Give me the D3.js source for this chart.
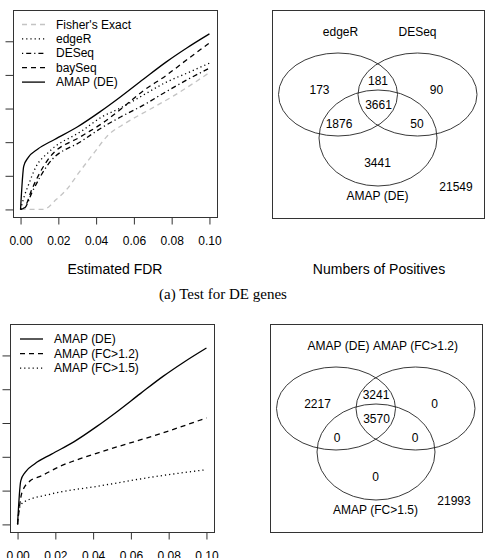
<!DOCTYPE html>
<html>
<head>
<meta charset="utf-8">
<script src="https://cdn.jsdelivr.net/npm/d3@7"></script>
<style>
  body { margin: 0; background: #fff; }
  svg { display: block; font-family: "Liberation Sans", Arial, sans-serif; }
</style>
</head>
<body>
<svg id="fig" width="487" height="558"></svg>
<script>
// --- data -------------------------------------------------------------
const xTicks = [0, 0.02, 0.04, 0.06, 0.08, 0.10];
const yTicks = [0, 2000, 4000, 6000, 8000, 10000];

// top panel: positives vs estimated FDR
const fisherFdr = [0, 0.012, 0.019, 0.0245, 0.031, 0.039, 0.0457, 0.056, 0.0686, 0.0808, 0.1];
const fisherPos = [0, 0, 600, 1200, 2200, 3380, 4340, 5160, 5960, 6740, 8140];
const edgeRFdr = [0, 0.002, 0.004, 0.008, 0.0146, 0.0323, 0.043, 0.053, 0.065, 0.077, 0.088, 0.1];
const edgeRPos = [0, 800, 1400, 2500, 3380, 4660, 5500, 6040, 6800, 7560, 8100, 8700];
const deseqFdr = [0, 0.0023, 0.006, 0.0146, 0.0323, 0.043, 0.053, 0.065, 0.077, 0.088, 0.1];
const deseqPos = [0, 100, 1000, 2680, 4060, 4860, 5500, 6200, 7000, 7700, 8400];
const bayseqFdr = [0, 0.002, 0.006, 0.0146, 0.0323, 0.043, 0.053, 0.065, 0.077, 0.088, 0.1];
const bayseqPos = [0, 100, 1200, 2980, 4360, 5100, 5960, 7060, 7960, 8900, 9900];
const amapDEFdr = [0, 0.0017, 0.004, 0.009, 0.018, 0.03, 0.042, 0.053, 0.065, 0.077, 0.088, 0.1];
const amapDEPos = [0, 2580, 3080, 3580, 4160, 4900, 5800, 6700, 7740, 8760, 9600, 10440];

// bottom panel: fold-change filters
const fc12Fdr = [0, 0.0023, 0.0067, 0.012, 0.0225, 0.035, 0.049, 0.0753, 0.1];
const fc12Pos = [0, 1880, 2580, 2840, 3440, 3960, 4460, 5360, 6300];
const fc15Fdr = [0, 0.0008, 0.003, 0.017, 0.0437, 0.07, 0.1];
const fc15Pos = [0, 900, 1300, 1780, 2280, 2780, 3240];

// venn counts: [A only, AB, B only, ABC, AC, BC, C only, outside]
const vennTopSets = ["edgeR", "DESeq", "AMAP (DE)"];
const vennTopCounts = [173, 181, 90, 3661, 1876, 50, 3441, 21549];
const vennBotSets = ["AMAP (DE)", "AMAP (FC>1.2)", "AMAP (FC>1.5)"];
const vennBotCounts = [2217, 3241, 0, 3570, 0, 0, 0, 21993];

// --- styles -----------------------------------------------------------
const styles = {
  "Fisher's Exact": { color: "#c4c4c4", dash: "5,4" },
  "edgeR": { color: "#000", dash: "1.2,3" },
  "DESeq": { color: "#000", dash: "1.2,3,5,3" },
  "baySeq": { color: "#000", dash: "5,4" },
  "AMAP (DE)": { color: "#000", dash: null },
  "AMAP (FC>1.2)": { color: "#000", dash: "5,4" },
  "AMAP (FC>1.5)": { color: "#000", dash: "1.2,3" }
};

const svg = d3.select("#fig");

function zip(xs, ys) {
  return xs.map((x, i) => ({ x: x, y: ys[i] }));
}

// line panel
function drawLines(box, series, legendPos) {
  const x = d3.scaleLinear().domain([-0.004, 0.104]).range([box.x0, box.x1]);
  const y = d3.scaleLinear().domain([-450, 11860]).range([box.y1, box.y0]);
  const g = svg.append("g");

  const line = d3.line()
    .x(d => x(d.x))
    .y(d => y(d.y))
    .curve(d3.curveMonotoneX);

  series.forEach(s => {
    const st = styles[s.name];
    g.append("path")
      .datum(zip(s.fdr, s.pos))
      .attr("d", line)
      .attr("fill", "none")
      .attr("stroke", st.color)
      .attr("stroke-width", 1.3)
      .attr("stroke-dasharray", st.dash);
  });

  g.append("rect")
    .attr("x", box.x0 + 0.5).attr("y", box.y0 + 0.5)
    .attr("width", box.x1 - box.x0).attr("height", box.y1 - box.y0)
    .attr("fill", "none").attr("stroke", "#333");

  const xAxis = g.append("g")
    .attr("transform", `translate(0,${box.y1 + 0.5})`)
    .call(d3.axisBottom(x).tickValues(xTicks).tickSize(7).tickPadding(12)
      .tickFormat(d3.format(".2f")));
  const yAxis = g.append("g")
    .attr("transform", `translate(${box.x0 + 0.5},0)`)
    .call(d3.axisLeft(y).tickValues(yTicks).tickSize(8).tickFormat(""));
  [xAxis, yAxis].forEach(a => {
    a.select(".domain").remove();
    a.selectAll("line").attr("stroke", "#333");
    a.selectAll("text").attr("font-size", 12).attr("fill", "#000")
      .attr("font-family", "Liberation Sans, Arial, sans-serif");
  });

  // legend
  series.forEach((s, i) => {
    const st = styles[s.name];
    const ly = legendPos.y + i * legendPos.step;
    g.append("line")
      .attr("x1", legendPos.x).attr("x2", legendPos.x + 23)
      .attr("y1", ly).attr("y2", ly)
      .attr("stroke", st.color).attr("stroke-width", 1.3)
      .attr("stroke-dasharray", st.dash);
    g.append("text")
      .attr("x", legendPos.x + 34).attr("y", ly)
      .attr("dominant-baseline", "central")
      .attr("font-size", 12)
      .text(s.name);
  });
}

// venn panel: circle layout and label anchors relative to the box
const vennCircles = [
  { cx: 66, cy: 84.5, rx: 59.5, ry: 41.5 },
  { cx: 145.5, cy: 84.5, rx: 59.5, ry: 41.5 },
  { cx: 106, cy: 128, rx: 59, ry: 48 }
];
const vennSetLabelPos = [[68.5, 22], [145.5, 22], [105.5, 185.5]];
const vennRegionPos = [[47.5, 80], [106, 70.5], [164.5, 80], [106.5, 95],
  [67, 114], [145, 114], [105.5, 153], [184, 176.5]];

function drawVenn(box, sets, counts) {
  const g = svg.append("g").attr("transform", `translate(${box.x0},${box.y0})`);
  g.append("rect")
    .attr("x", 0.5).attr("y", 0.5)
    .attr("width", box.x1 - box.x0).attr("height", box.y1 - box.y0)
    .attr("fill", "none").attr("stroke", "#333");

  g.selectAll("ellipse")
    .data(vennCircles)
    .join("ellipse")
    .attr("cx", d => d.cx).attr("cy", d => d.cy)
    .attr("rx", d => d.rx).attr("ry", d => d.ry)
    .attr("fill", "none").attr("stroke", "#222").attr("stroke-width", 0.9);

  g.selectAll("text.set")
    .data(sets)
    .join("text")
    .attr("class", "set")
    .attr("x", (d, i) => vennSetLabelPos[i][0])
    .attr("y", (d, i) => vennSetLabelPos[i][1])
    .attr("text-anchor", "middle").attr("dominant-baseline", "central")
    .attr("font-size", 12)
    .text(d => d);

  g.selectAll("text.count")
    .data(counts)
    .join("text")
    .attr("class", "count")
    .attr("x", (d, i) => vennRegionPos[i][0])
    .attr("y", (d, i) => vennRegionPos[i][1])
    .attr("text-anchor", "middle").attr("dominant-baseline", "central")
    .attr("font-size", 12)
    .text(d => d);
}

// --- draw -------------------------------------------------------------
drawLines({ x0: 13, x1: 217, y0: 10, y1: 217 }, [
  { name: "Fisher's Exact", fdr: fisherFdr, pos: fisherPos },
  { name: "edgeR", fdr: edgeRFdr, pos: edgeRPos },
  { name: "DESeq", fdr: deseqFdr, pos: deseqPos },
  { name: "baySeq", fdr: bayseqFdr, pos: bayseqPos },
  { name: "AMAP (DE)", fdr: amapDEFdr, pos: amapDEPos }
], { x: 22, y: 24.5, step: 14.4 });

drawVenn({ x0: 272, x1: 484, y0: 10, y1: 218 }, vennTopSets, vennTopCounts);

svg.append("text").attr("x", 115).attr("y", 269)
  .attr("text-anchor", "middle").attr("dominant-baseline", "central")
  .attr("font-size", 14).text("Estimated FDR");
svg.append("text").attr("x", 379).attr("y", 269)
  .attr("text-anchor", "middle").attr("dominant-baseline", "central")
  .attr("font-size", 14).text("Numbers of Positives");
svg.append("text").attr("x", 223).attr("y", 294)
  .attr("text-anchor", "middle").attr("dominant-baseline", "central")
  .attr("font-family", "Liberation Serif, Times New Roman, serif")
  .attr("font-size", 15).text("(a) Test for DE genes");

drawLines({ x0: 10, x1: 214, y0: 324, y1: 532 }, [
  { name: "AMAP (DE)", fdr: amapDEFdr, pos: amapDEPos },
  { name: "AMAP (FC>1.2)", fdr: fc12Fdr, pos: fc12Pos },
  { name: "AMAP (FC>1.5)", fdr: fc15Fdr, pos: fc15Pos }
], { x: 20, y: 339, step: 14.6 });

drawVenn({ x0: 270, x1: 482, y0: 324, y1: 532 }, vennBotSets, vennBotCounts);
</script>
</body>
</html>
